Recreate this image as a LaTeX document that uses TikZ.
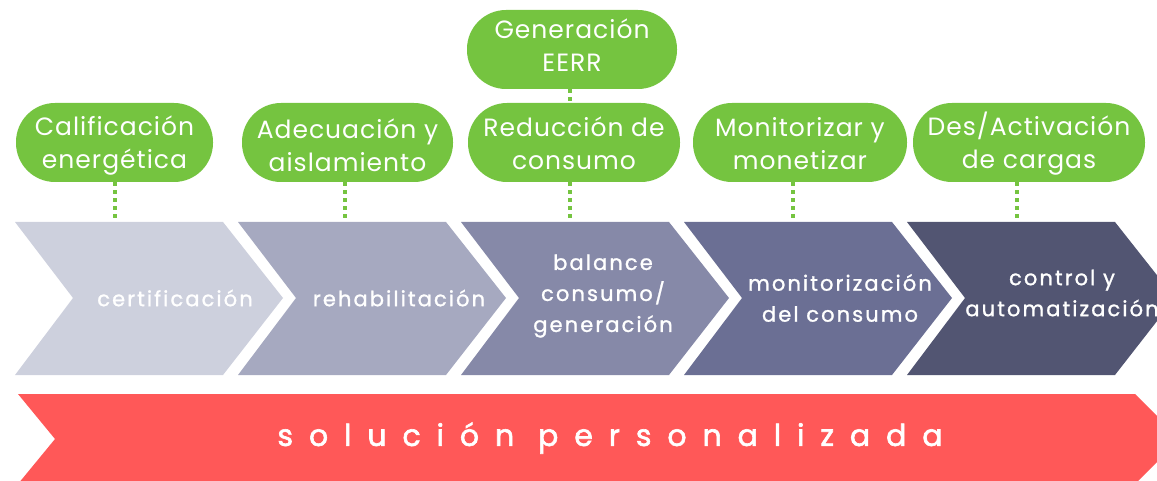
\documentclass[tikz,border=0pt]{standalone}
\usepackage{fontspec}
\setmainfont{Poppins}
\newfontfamily\pillfont{Poppins}[LetterSpace=4]
\newfontfamily\chevfont{Poppins}[LetterSpace=10,FakeBold=1.2]
\newfontfamily\barfont{Poppins}[LetterSpace=53,FakeBold=2]
\usetikzlibrary{calc}
\definecolor{cvA}{HTML}{CDD0DD}
\definecolor{cvB}{HTML}{A6A9C0}
\definecolor{cvC}{HTML}{8689A8}
\definecolor{cvD}{HTML}{6B6F94}
\definecolor{cvE}{HTML}{525572}
\definecolor{pillgreen}{HTML}{75C440}
\definecolor{barred}{HTML}{FF5858}
\tikzset{
  pill/.style={fill=pillgreen, rounded corners=39pt, minimum height=79pt, inner sep=0pt},
  pilltext/.style={text=white, align=center, inner sep=0pt, font=\pillfont\fontsize{25}{33}\selectfont},
  chevtext/.style={text=white, align=center, inner sep=0pt, font=\chevfont\fontsize{21}{31}\selectfont},
  bartext/.style={text=white, inner sep=0pt, font=\barfont\fontsize{30}{36}\selectfont},
  dotline/.style={draw=pillgreen, line width=4pt, dash pattern=on 4pt off 4pt}
}
\begin{document}
\begin{tikzpicture}[x=1pt,y=-1pt]
\path[use as bounding box] (0,0) rectangle (1157,481);
\clip (0,0) rectangle (1157,481);
% chevrons
\foreach \i/\c in {0/cvA,1/cvB,2/cvC,3/cvD,4/cvE}{
  \pgfmathsetmacro{\xo}{15+223*\i}
  \fill[\c] (\xo,222) -- ++(208,0) -- ++(60,76) -- ++(-60,77) -- ++(-208,0) -- ++(58,-77) -- cycle;
}
% red bar
\fill[barred] (18,394) -- (1135,394) -- (1180,439) -- (1135,484) -- (18,484) -- (55,439) -- cycle;
\node[bartext] (bar) at (610,438) {solución personalizada};
% chevron texts
\node[chevtext] (t1) at (175,298) {certificación};
\node[chevtext] (t2) at (399,298) {rehabilitación};
\node[chevtext] (t3) at (603,296) {balance\\consumo/\\generación};
\node[chevtext] (t4) at (840,298) {monitorización\\del consumo};
\node[chevtext] (t5) at (1062,293) {control y\\automatización};
% connector end points on chevron tops
\coordinate (c1) at (115,220);
\coordinate (c2) at (345,220);
\coordinate (c3) at (570,220);
\coordinate (c4) at (793,220);
\coordinate (c5) at (1017,220);
% pills
\node[pill, minimum width=197pt] (p1) at (114.5,142.5) {};
\node[pill, minimum width=211pt] (p2) at (347.5,142.5) {};
\node[pill, minimum width=212pt] (p3) at (574,142.5) {};
\node[pill, minimum width=210pt] (g) at (572,49.5) {};
\node[pill, minimum width=214pt] (p4) at (800,142.5) {};
\node[pill, minimum width=232pt] (p5) at (1029,142.5) {};
\node[pilltext] (p1t) at ($(p1)+(0,3)$) {Calificación\\energética};
\node[pilltext] (p2t) at ($(p2)+(0,3)$) {Adecuación y\\aislamiento};
\node[pilltext] (p3t) at ($(p3)+(0,1)$) {Reducción de\\consumo};
\node[pilltext] (gt) at ($(g)+(0,-4)$) {Generación\\EERR};
\node[pilltext] (p4t) at ($(p4)+(0,1)$) {Monitorizar y\\monetizar};
\node[pilltext] (p5t) at ($(p5)+(0,1)$) {Des/Activación\\de cargas};
% dotted connectors
\draw[dotline] (p1.south -| c1) -- (c1);
\draw[dotline] (p2.south -| c2) -- (c2);
\draw[dotline] (p3.south -| c3) -- (c3);
\draw[dotline] (g.south -| c3) -- (p3.north -| c3);
\draw[dotline] (p4.south -| c4) -- (c4);
\draw[dotline] (p5.south -| c5) -- (c5);
\end{tikzpicture}
\end{document}
